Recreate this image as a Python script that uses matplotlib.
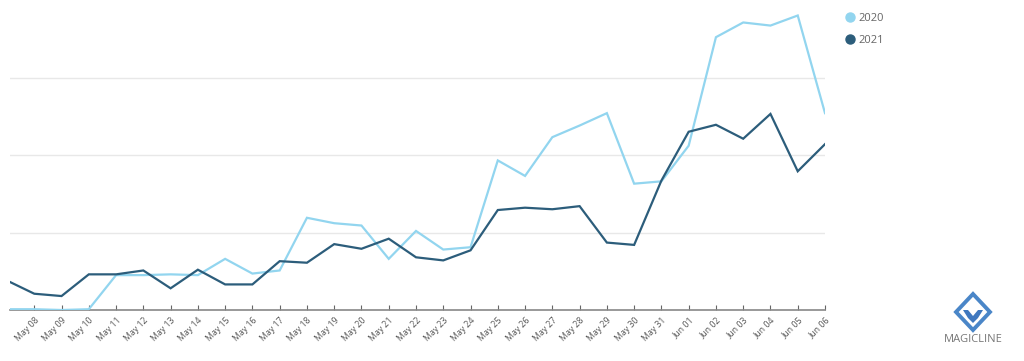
import matplotlib
matplotlib.use('Agg')
import matplotlib.pyplot as plt
from matplotlib.patches import Polygon
from matplotlib.lines import Line2D

dates = ['May 07', 'May 08', 'May 09', 'May 10', 'May 11', 'May 12', 'May 13', 'May 14',
         'May 15', 'May 16', 'May 17', 'May 18', 'May 19', 'May 20', 'May 21', 'May 22',
         'May 23', 'May 24', 'May 25', 'May 26', 'May 27', 'May 28', 'May 29', 'May 30',
         'May 31', 'Jun 01', 'Jun 02', 'Jun 03', 'Jun 04', 'Jun 05', 'Jun 06']

values_2020 = [1, 1, 0, 1, 45, 45, 46, 45, 66, 47, 51, 119, 112, 109, 66, 102,
               78, 81, 193, 173, 223, 238, 254, 163, 166, 212, 352, 371, 367, 380, 254]

values_2021 = [38, 21, 18, 46, 46, 51, 28, 52, 33, 33, 63, 61, 85, 79, 92, 68,
               64, 77, 129, 132, 130, 134, 87, 84, 167, 230, 239, 221, 253, 179, 214]

c2020 = '#92d5ef'
c2021 = '#2c5d7b'

fig = plt.figure(figsize=(10.24, 3.61), dpi=100)
ax = fig.add_axes([10/1024, 51/361, 815/1024, 310/361])

x = list(range(len(dates)))
ax.plot(x, values_2020, color=c2020, lw=1.6, solid_joinstyle='miter', zorder=3)
ax.plot(x, values_2021, color=c2021, lw=1.6, solid_joinstyle='miter', zorder=4)

ax.set_xlim(0.11, 30)
ax.set_ylim(0, 400)

ax.set_yticks([100, 200, 300])
ax.yaxis.grid(True, color='#e8e8e8', lw=1)
ax.tick_params(axis='y', length=0, labelleft=False)

ax.set_xticks(x[1:])
ax.set_xticklabels(dates[1:], rotation=45, ha='right', va='top', rotation_mode='anchor',
                   fontsize=6.3, color='#555555', family='Open Sans')
ax.tick_params(axis='x', direction='in', length=3.5, width=0.8, color='#666666', pad=4)

for s in ['top', 'right', 'left']:
    ax.spines[s].set_visible(False)
ax.spines['bottom'].set_color('#888888')
ax.spines['bottom'].set_linewidth(1.2)
ax.set_axisbelow(True)

# legend
handles = [Line2D([], [], ls='', marker='o', ms=6.5, color=c2020),
           Line2D([], [], ls='', marker='o', ms=6.5, color=c2021)]
fig.legend(handles, ['2020', '2021'], loc='upper left', bbox_to_anchor=(833/1024, 1 - 3/361),
           frameon=False, handletextpad=0.2, labelspacing=0.95, prop={'family': 'Open Sans', 'size': 8},
           labelcolor='#666666', handlelength=1.2)

# logo
lx, ly = 973/1024, 1 - 312/361
w, h = 17/1024, 18/361
outer = Polygon([(lx, ly + h), (lx + w, ly), (lx, ly - h), (lx - w, ly)], closed=True,
                transform=fig.transFigure, fill=False, ec='#4a86c8', lw=2.8)
fig.patches.append(outer)
mw, mh = 10/1024, 10/361
m_shape = Polygon([(lx - mw, ly + mh * 0.2), (lx - mw * 0.5, ly + mh * 0.2), (lx, ly - mh * 0.4),
                   (lx + mw * 0.5, ly + mh * 0.2), (lx + mw, ly + mh * 0.2), (lx + mw * 0.5, ly - mh * 0.6),
                   (lx, ly - mh * 1.1), (lx - mw * 0.5, ly - mh * 0.6)], closed=True,
                  transform=fig.transFigure, fc='#3f78bf', ec='none')
fig.patches.append(m_shape)
fig.text(lx, 1 - 339/361, 'MAGICLINE', ha='center', va='center', fontsize=8,
         color='#777777', family='Open Sans')

fig.savefig('out.png', dpi=100)
